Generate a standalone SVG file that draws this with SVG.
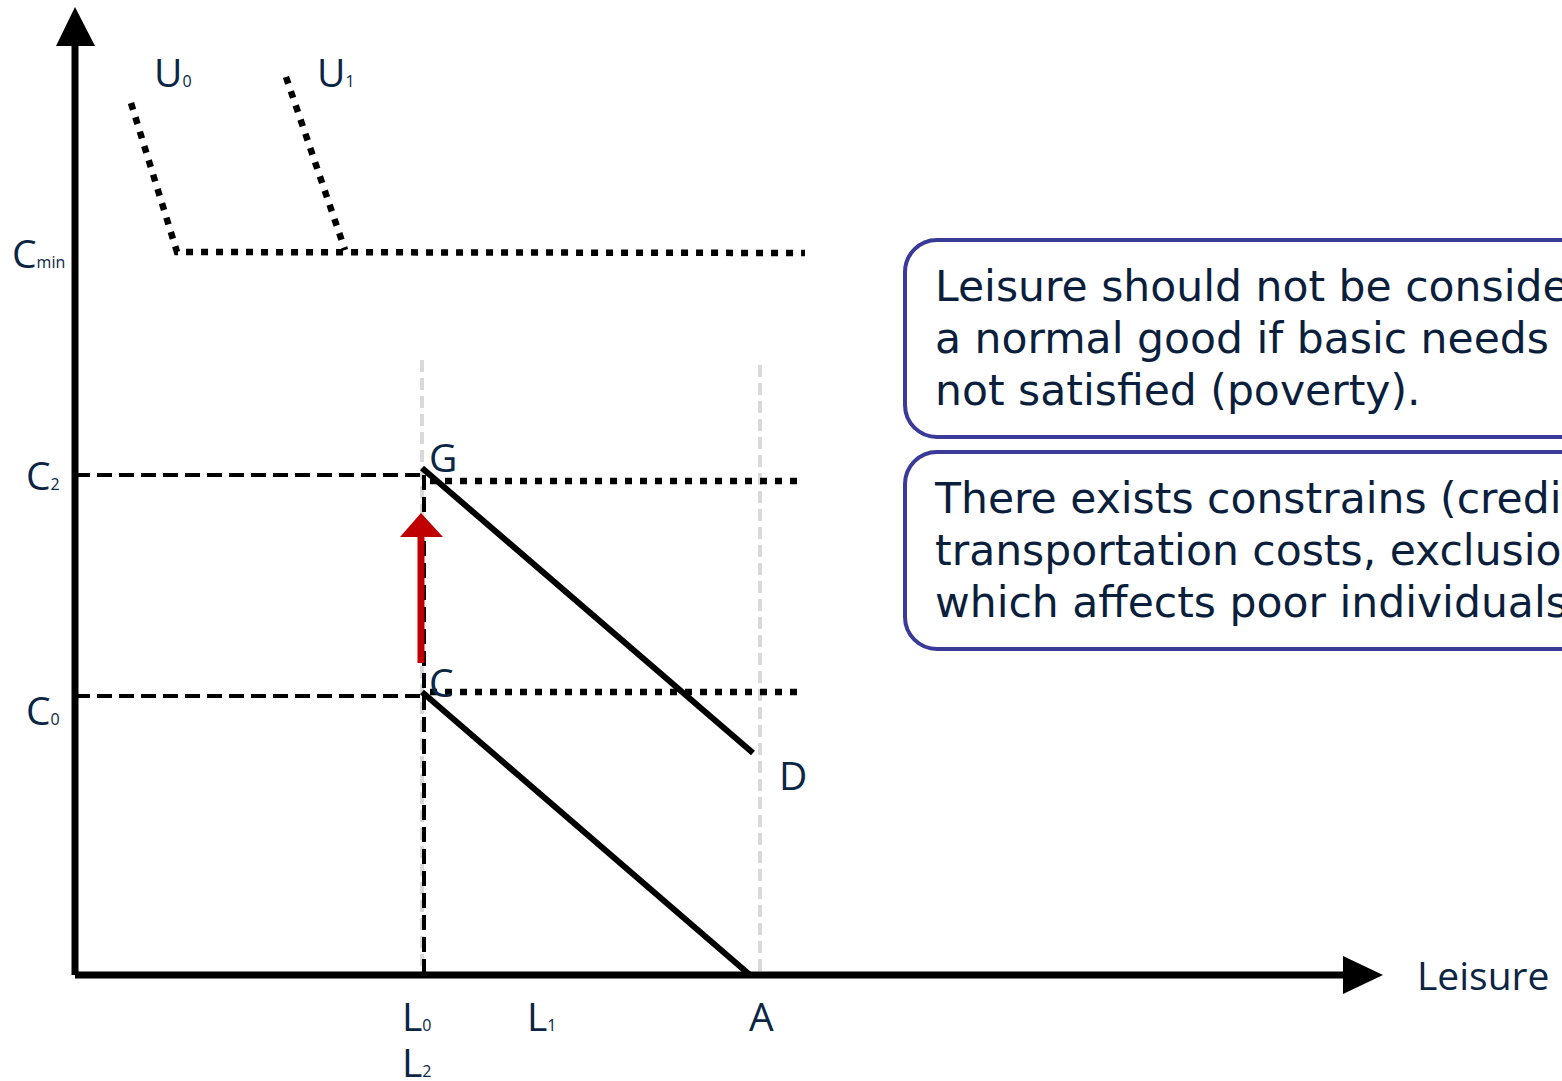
<svg xmlns="http://www.w3.org/2000/svg" width="1562" height="1081" viewBox="0 0 1562 1081">
<style>
.lbl{font-family:"Open Sans","Noto Sans",sans-serif;fill:#0b2545;font-size:39px}
.sub{font-size:16px}
.box{fill:#fff;stroke:#3a3a98;stroke-width:4}
.bt{font-family:"DejaVu Sans",Verdana,sans-serif;fill:#0b1f3d;font-size:42.5px}
.dot{fill:none;stroke:#000;stroke-width:6.5;stroke-dasharray:7 8}
.dash{fill:none;stroke:#000;stroke-width:4;stroke-dasharray:15 7}
.grey{fill:none;stroke:#d9d9d9;stroke-width:4;stroke-dasharray:12 6}
.solid{fill:none;stroke:#000;stroke-width:6}
</style>
<rect width="1562" height="1081" fill="#fff"/>
<g id="connectors">
<line class="grey" x1="422" y1="360" x2="422" y2="975"/>
<line class="grey" x1="760" y1="365" x2="760" y2="975"/>
<polyline class="dot" points="131,103 177,252 805,253"/>
<line class="dot" x1="286" y1="77" x2="345" y2="250"/>
<line class="dash" x1="75" y1="475" x2="422" y2="475"/>
<line class="dash" x1="75" y1="696" x2="422" y2="696"/>
<line class="dash" x1="424" y1="475" x2="424" y2="975"/>
<line class="dot" x1="430" y1="481" x2="797" y2="481"/>
<line class="dot" x1="430" y1="692" x2="797" y2="692"/>
<line class="solid" x1="422" y1="468" x2="753" y2="753"/>
<line class="solid" x1="422" y1="692" x2="750" y2="975"/>
<line x1="421" y1="663" x2="421" y2="532" stroke="#c00000" stroke-width="7"/>
<polygon points="421,513 400,537 443,537" fill="#c00000"/>
<line x1="75" y1="975" x2="75" y2="40" stroke="#000" stroke-width="7"/>
<polygon points="75,7 56,46 95,46" fill="#000"/>
<line x1="75" y1="975" x2="1350" y2="975" stroke="#000" stroke-width="7"/>
<polygon points="1383,975 1343,956 1343,994" fill="#000"/>
</g>
<g id="labels">
<text class="lbl" x="154" y="87">U<tspan class="sub">0</tspan></text>
<text class="lbl" x="317" y="87">U<tspan class="sub">1</tspan></text>
<text class="lbl" x="12" y="268">C<tspan class="sub">min</tspan></text>
<text class="lbl" x="26" y="490">C<tspan class="sub">2</tspan></text>
<text class="lbl" x="26" y="725">C<tspan class="sub">0</tspan></text>
<text class="lbl" x="429" y="472">G</text>
<text class="lbl" x="429" y="697">C</text>
<text class="lbl" x="779" y="790">D</text>
<text class="lbl" x="402" y="1031">L<tspan class="sub">0</tspan></text>
<text class="lbl" x="402" y="1077">L<tspan class="sub">2</tspan></text>
<text class="lbl" x="527" y="1031">L<tspan class="sub">1</tspan></text>
<text class="lbl" x="749" y="1031">A</text>
<text class="lbl" x="1417" y="990">Leisure</text>
</g>
<g id="box1">
<rect class="box" x="905" y="240" width="720" height="197" rx="32"/>
<text class="bt" x="935" y="301">Leisure should not be considered</text>
<text class="bt" x="935" y="353">a normal good if basic needs are</text>
<text class="bt" x="935" y="405">not satisfied (poverty).</text>
</g>
<g id="box2">
<rect class="box" x="905" y="452" width="720" height="197" rx="32"/>
<text class="bt" x="935" y="513">There exists constrains (credit,</text>
<text class="bt" x="935" y="565">transportation costs, exclusion)</text>
<text class="bt" x="935" y="617">which affects poor individuals.</text>
</g>
</svg>
